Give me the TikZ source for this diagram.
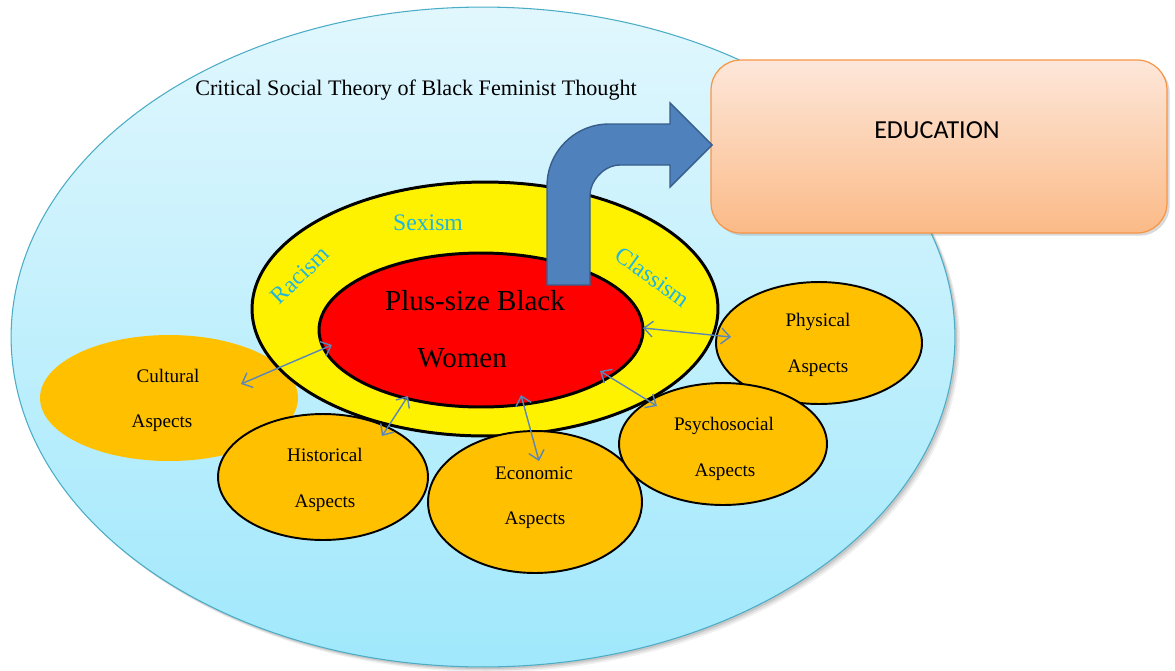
\documentclass[tikz,border=0pt]{standalone}
\usepackage{fontspec}
\setmainfont{Liberation Serif}
\newfontfamily\edufont{Carlito}
\usetikzlibrary{shapes.geometric,arrows.meta,shadows}

\definecolor{skytop}{HTML}{E1F7FD}
\definecolor{skybot}{HTML}{A0E8FC}
\definecolor{skyline}{HTML}{4BACC6}
\definecolor{aspectfill}{HTML}{FFC000}
\definecolor{isms}{HTML}{1EB6E0}
\definecolor{bendfill}{HTML}{4F81BD}
\definecolor{bendline}{HTML}{385D8A}
\definecolor{linkcol}{HTML}{5A87B8}
\definecolor{edutop}{HTML}{FDE7DA}
\definecolor{edubot}{HTML}{FBBA87}
\definecolor{eduline}{HTML}{F79646}

\begin{document}
\begin{tikzpicture}[x=0.02cm,y=-0.02cm,
  ring/.style={ellipse, draw=black, line width=1.7pt, inner sep=0pt},
  aspect/.style={ellipse, fill=aspectfill, draw=black, line width=1.1pt, inner sep=0pt},
  aspecttext/.style={anchor=base, font=\fontsize{10.9}{13}\selectfont},
  ismtext/.style={text=isms, font=\fontsize{13.5}{16}\selectfont},
  link/.style={draw=linkcol, line width=0.8pt,
    arrows={Straight Barb[length=5pt,width=9pt]-Straight Barb[length=5pt,width=9pt]}},
]
\useasboundingbox (0,0) rectangle (1175,670);

% soft shadow under the theory ellipse
\foreach \s/\o in {5/0.06,3.5/0.08,2/0.10}
  \fill[black, opacity=\o] (483+\s,337+\s) ellipse [x radius=472, y radius=330];

% outer frame: the critical social theory
\node[ellipse, draw=skyline, line width=0.6pt, top color=skytop, bottom color=skybot,
      minimum width=18.88cm, minimum height=13.2cm, inner sep=0pt] (theory) at (483,337) {};
\node[anchor=base, font=\fontsize{12.6}{15}\selectfont] (title) at (416,95)
  {Critical Social Theory of Black Feminist Thought};

% cultural aspects sits beneath the rings
\node[aspect, draw=none, minimum width=5.16cm, minimum height=2.52cm] (cul) at (169,398) {};
\node[aspecttext] (cult1) at (168,382) {Cultural};
\node[aspecttext] (cult2) at (162,427) {Aspects};

% oppression ring and core
\node[ring, fill=yellow, minimum width=9.32cm, minimum height=5.08cm] (outer) at (485,309) {};
\node[ring, fill=red, minimum width=6.48cm, minimum height=3.08cm] (core) at (481,330) {};
\node[ismtext, anchor=base] (sexism) at (428,230) {Sexism};
\node[ismtext, rotate=44] (racism) at (300,275) {Racism};
\node[ismtext, rotate=-36] (classism) at (653,277) {Classism};
\node[anchor=base, font=\fontsize{16.5}{20}\selectfont] (core1) at (475,310) {Plus-size Black};
\node[anchor=base, font=\fontsize{16.5}{20}\selectfont] (core2) at (462,367) {Women};

% education box
\node[rectangle, rounded corners=17pt, draw=eduline, line width=0.7pt,
      top color=edutop, bottom color=edubot,
      drop shadow={shadow xshift=1.5pt, shadow yshift=-1.5pt, opacity=0.3},
      minimum width=9.12cm, minimum height=3.46cm] (edu) at (939,146.5) {};
\node[anchor=base, font=\edufont\fontsize{14.8}{18}\selectfont] (edut) at (937,138) {EDUCATION};

% bent arrow leading out of the core to education
\draw[fill=bendfill, draw=bendline, line width=0.8pt, line join=miter]
  (547,285) -- (547,186)
  .. controls (547,151.8) and (574.8,124) .. (609,124)
  -- (670,124) -- (670,103) -- (712,145) -- (670,187) -- (670,165)
  -- (620,165)
  .. controls (603.4,165) and (590,181.6) .. (590,195)
  -- (590,285) -- cycle;

% remaining aspects
\node[aspect, minimum width=4.2cm, minimum height=2.52cm] (his) at (323,477) {};
\node[aspecttext] (hist1) at (325,461) {Historical};
\node[aspecttext] (hist2) at (325,507) {Aspects};

\node[aspect, minimum width=4.28cm, minimum height=2.84cm] (eco) at (535,502) {};
\node[aspecttext] (ecot1) at (534,479) {Economic};
\node[aspecttext] (ecot2) at (535,524) {Aspects};

\node[aspect, minimum width=4.12cm, minimum height=2.44cm] (phy) at (819,343) {};
\node[aspecttext] (phyt1) at (818,326) {Physical};
\node[aspecttext] (phyt2) at (818,372) {Aspects};

\node[aspect, minimum width=4.16cm, minimum height=2.44cm] (psy) at (723,444) {};
\node[aspecttext] (psyt1) at (724,430) {Psychosocial};
\node[aspecttext] (psyt2) at (725,476) {Aspects};

% two-way links between the core and each aspect
\coordinate (cul-end)  at (241,384);  \coordinate (cul-core) at (332,345);
\coordinate (his-end)  at (382,436);  \coordinate (his-core) at (408,396);
\coordinate (eco-end)  at (539,461);  \coordinate (eco-core) at (521,395);
\coordinate (psy-end)  at (657,406);  \coordinate (psy-core) at (600,371);
\coordinate (phy-end)  at (731,337);  \coordinate (phy-core) at (643,328);
\draw[link] (cul-end) -- (cul-core);
\draw[link] (his-end) -- (his-core);
\draw[link] (eco-end) -- (eco-core);
\draw[link] (psy-end) -- (psy-core);
\draw[link] (phy-end) -- (phy-core);
\end{tikzpicture}
\end{document}
